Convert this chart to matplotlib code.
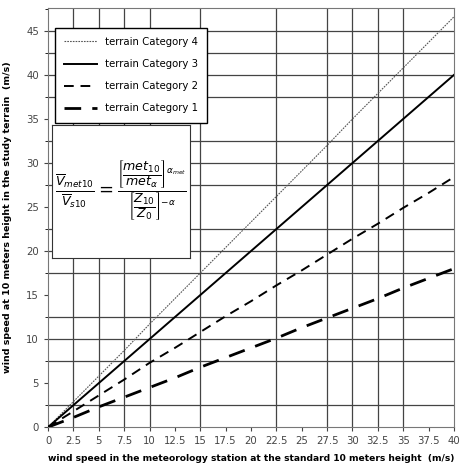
import matplotlib.pyplot as plt

# wind speed at the meteorology station (m/s)
x = [0, 2.5, 5, 7.5, 10, 12.5, 15, 17.5, 20, 22.5, 25, 27.5, 30, 32.5, 35, 37.5, 40]
# wind speed in the study terrain (m/s)
cat4 = [0, 2.9, 5.8, 8.7, 11.7, 14.6, 17.5, 20.4, 23.3, 26.2, 29.1, 32.0, 35.0, 37.9, 40.8, 43.7, 46.6]
cat3 = [0, 2.5, 5, 7.5, 10, 12.5, 15, 17.5, 20, 22.5, 25, 27.5, 30, 32.5, 35, 37.5, 40]
cat2 = [0, 1.8, 3.6, 5.4, 7.3, 9.0, 10.8, 12.6, 14.3, 16.1, 17.8, 19.6, 21.4, 23.1, 24.9, 26.6, 28.4]
cat1 = [0, 1.1, 2.3, 3.4, 4.5, 5.6, 6.8, 7.9, 9.0, 10.1, 11.3, 12.4, 13.5, 14.6, 15.8, 16.9, 18.0]

xticks = [0, 2.5, 5, 7.5, 10, 12.5, 15, 17.5, 20, 22.5, 25, 27.5, 30, 32.5, 35, 37.5, 40]
xtick_labels = ['0', '2.5', '5', '7.5', '10', '12.5', '15', '17.5', '20', '22.5', '25',
                '27.5', '30', '32.5', '35', '37.5', '40']
yticks = [0, 5, 10, 15, 20, 25, 30, 35, 40, 45]
# the grid in the original is only drawn at some of the positions
vgrid = [2.5, 5, 7.5, 10, 15, 22.5, 27.5, 30, 32.5, 35]
hgrid = [2.5, 7.5, 10, 12.5, 17.5, 20, 22.5, 27.5, 30, 32.5, 37.5, 40, 42.5, 45]

fig = plt.figure(figsize=(4.67, 4.73), dpi=100)
ax = fig.add_axes([0.103, 0.097, 0.869, 0.886])

for v in vgrid:
    ax.axvline(v, color='#444444', lw=0.9, zorder=1)
for h in hgrid:
    ax.axhline(h, color='#444444', lw=0.9, zorder=1)

ax.plot(x, cat4, color='#555555', lw=0.8, linestyle=(0, (1.5, 1)), label='terrain Category 4', zorder=3)
ax.plot(x, cat3, color='black', lw=1.4, label='terrain Category 3', zorder=3)
ax.plot(x, cat2, color='black', lw=1.4, linestyle=(0, (5, 3.5)), label='terrain Category 2', zorder=3)
ax.plot(x, cat1, color='black', lw=2.0, linestyle=(0, (6, 4)), label='terrain Category 1', zorder=3)

ax.set_xlim(0, 40)
ax.set_ylim(0, 47.6)
ax.set_xticks(xticks)
ax.set_xticklabels(xtick_labels)
ax.set_yticks(yticks)
ax.set_yticks([2.5 + 5 * i for i in range(10)], minor=True)
ax.tick_params(labelsize=7.3, colors='#444444', length=3)
ax.tick_params(which='minor', length=2)
for s in ax.spines.values():
    s.set_color('#777777')

ax.set_xlabel('wind speed in the meteorology station at the standard 10 meters height  (m/s)',
              fontsize=6.6, fontweight='bold', labelpad=6)
ax.set_ylabel('wind speed at 10 meters height in the study terrain  (m/s)',
              fontsize=6.8, fontweight='bold', labelpad=10)

leg = ax.legend(loc='upper left', bbox_to_anchor=(0.005, 0.965), fontsize=7.3,
                handlelength=3.2, labelspacing=1.2, borderpad=0.9, fancybox=False,
                framealpha=1, edgecolor='black')
leg.get_frame().set_linewidth(1.0)

# equation box
eq = fig.add_axes([0.111, 0.455, 0.296, 0.281])
eq.set_xticks([])
eq.set_yticks([])
for s in eq.spines.values():
    s.set_color('#333333')
eq.text(0.5, 0.5,
        r'$\frac{\overline{V}_{met10}}{\overline{V}_{s10}} = '
        r'\frac{\left[\dfrac{met_{10}}{met_{\alpha}}\right]^{\alpha_{met}}}'
        r'{\left[\dfrac{Z_{10}}{Z_{0}}\right]^{-\alpha}}$',
        ha='center', va='center', fontsize=13, family='serif')

fig.savefig('out.png', dpi=100)
